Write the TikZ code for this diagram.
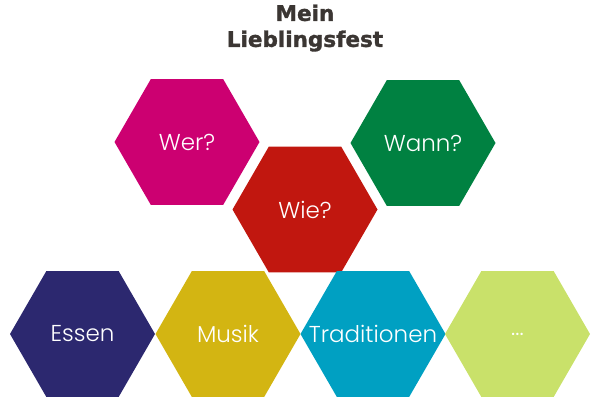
\documentclass[tikz,border=0pt]{standalone}
\usepackage{fontspec}
\setmainfont{Poppins}[UprightFont=* Light]
\newfontfamily\titlefont{DejaVu Sans}[BoldFeatures={FakeBold=1.5}]
\usetikzlibrary{shapes.geometric}
\definecolor{titlegray}{RGB}{59,54,51}
\definecolor{werpink}{RGB}{204,0,113}
\definecolor{wiered}{RGB}{193,23,15}
\definecolor{wanngreen}{RGB}{0,129,65}
\definecolor{essenblue}{RGB}{44,40,111}
\definecolor{musikgold}{RGB}{211,181,18}
\definecolor{tradteal}{RGB}{0,160,194}
\definecolor{dotslime}{RGB}{201,225,106}
\begin{document}
\begin{tikzpicture}[x=1pt,y=-1pt,
	hexa/.style={regular polygon, regular polygon sides=6, minimum size=145pt, inner sep=0pt,
		label={[text=white, font=\fontsize{23}{26}\selectfont]center:#1}},
	titel/.style={align=center, text=titlegray, font=\titlefont\bfseries\fontsize{21.5}{26}\selectfont}]
				\useasboundingbox (0,0) rectangle (600,400);
				\node[titel, anchor=north] (titel) at (305,1) {Mein\\Lieblingsfest};
				\node[hexa=Wer?, fill=werpink] (wer) at (187,142) {};
				\node[hexa=Wie?, fill=wiered] (wie) at (305,209.5) {};
				\node[hexa=Wann?, fill=wanngreen] (wann) at (423,143) {};
				\node[hexa=Essen, fill=essenblue] (essen) at (82.5,334) {};
				\node[hexa=Musik, fill=musikgold] (musik) at (228,334) {};
				\node[hexa=Traditionen, fill=tradteal] (trad) at (373,334) {};
				\node[hexa=..., fill=dotslime] (mehr) at (517.5,334) {};
			\end{tikzpicture}
\end{document}
